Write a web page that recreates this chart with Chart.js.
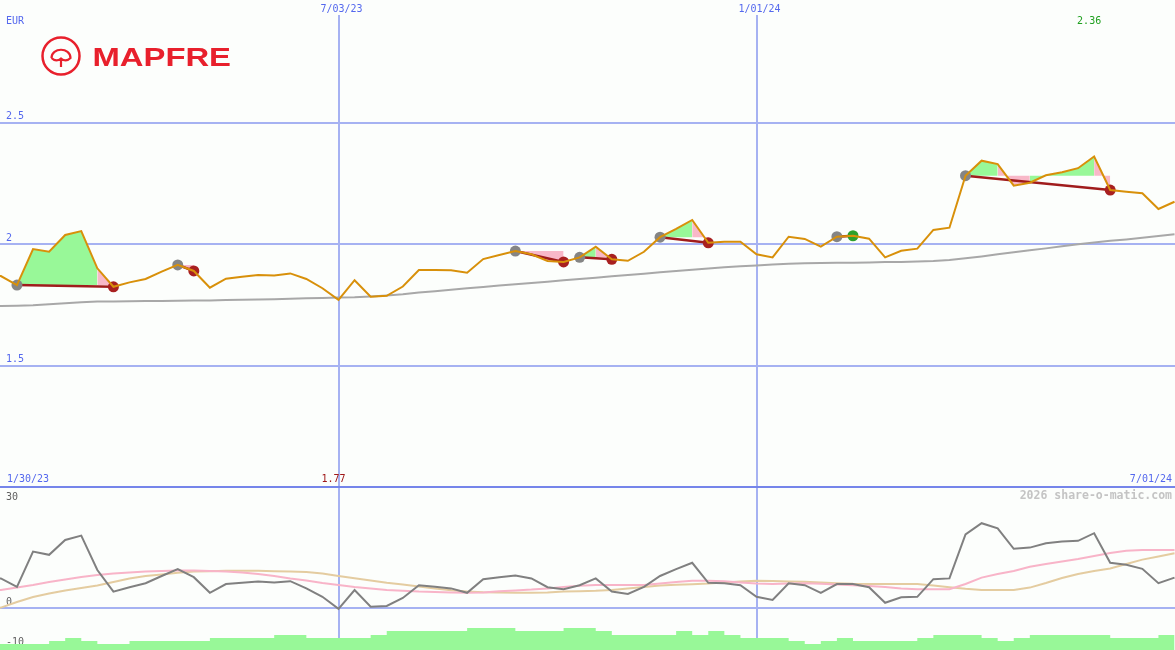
<!DOCTYPE html>
<html>
<head>
<meta charset="utf-8">
<title>MAPFRE</title>
<script src="https://cdn.jsdelivr.net/npm/chart.js@4.4.0/dist/chart.umd.min.js"></script>
<style>
  html, body { margin: 0; padding: 0; background: #fcfefc; }
  canvas { display: block; }
</style>
</head>
<body>
<canvas id="chart" width="1175" height="650"></canvas>
<script>
// weekly closes, week 0 = 1/30/23
const price = [1.870, 1.868, 1.831, 1.979, 1.968, 2.037, 2.053, 1.900, 1.824, 1.842,
  1.856, 1.886, 1.914, 1.889, 1.820, 1.857, 1.865, 1.872, 1.870, 1.879,
  1.856, 1.818, 1.770, 1.851, 1.783, 1.787, 1.825, 1.893, 1.893, 1.892,
  1.882, 1.938, 1.955, 1.971, 1.958, 1.930, 1.926, 1.945, 1.989, 1.937,
  1.931, 1.968, 2.028, 2.062, 2.099, 2.005, 2.009, 2.009, 1.958, 1.945,
  2.030, 2.021, 1.989, 2.030, 2.034, 2.022, 1.945, 1.972, 1.981, 2.058,
  2.067, 2.281, 2.343, 2.329, 2.240, 2.252, 2.283, 2.295, 2.312, 2.360,
  2.222, 2.215, 2.209, 2.144, 2.174];

// long moving average
const ma = [1.744, 1.745, 1.746, 1.748, 1.752, 1.756, 1.760, 1.763, 1.763, 1.764,
  1.765, 1.765, 1.766, 1.767, 1.768, 1.770, 1.771, 1.772, 1.773, 1.775,
  1.777, 1.778, 1.780, 1.781, 1.784, 1.788, 1.793, 1.800, 1.806, 1.812,
  1.818, 1.823, 1.829, 1.834, 1.840, 1.845, 1.851, 1.856, 1.861, 1.867,
  1.872, 1.878, 1.884, 1.889, 1.894, 1.899, 1.904, 1.908, 1.912, 1.916,
  1.919, 1.921, 1.922, 1.923, 1.923, 1.924, 1.926, 1.926, 1.928, 1.930,
  1.934, 1.941, 1.949, 1.958, 1.966, 1.974, 1.982, 1.991, 1.999, 2.006,
  2.013, 2.019, 2.026, 2.033, 2.040];

// lower panel
const osc = [7.5, 7.4, 5.3, 14.1, 13.3, 17.0, 18.1, 9.5, 4.1, 5.2,
  6.2, 8.0, 9.7, 7.7, 3.8, 6.0, 6.3, 6.6, 6.4, 6.7,
  4.9, 2.8, -0.2, 4.5, 0.3, 0.5, 2.5, 5.7, 5.3, 4.9,
  3.8, 7.2, 7.7, 8.1, 7.4, 5.2, 4.7, 5.7, 7.4, 4.1,
  3.5, 5.3, 8.0, 9.7, 11.3, 6.3, 6.2, 5.7, 2.8, 2.0,
  6.2, 5.7, 3.8, 6.0, 6.0, 5.2, 1.3, 2.7, 2.8, 7.2,
  7.4, 18.4, 21.2, 19.9, 14.8, 15.1, 16.2, 16.6, 16.8, 18.7,
  11.3, 10.8, 9.8, 6.2, 7.6];

const oscFast = [4.0, 4.5, 5.1, 5.75, 6.5, 7.1, 7.75, 8.25, 8.6, 8.9,
  9.1, 9.25, 9.4, 9.4, 9.25, 9.1, 8.9, 8.5, 8.0, 7.4,
  6.9, 6.25, 5.75, 5.25, 4.9, 4.5, 4.3, 4.1, 4.0, 3.9,
  3.8, 3.9, 4.2, 4.4, 4.6, 4.9, 5.25, 5.55, 5.75, 5.75,
  5.75, 5.75, 6.1, 6.5, 6.8, 6.8, 6.7, 6.4, 6.1, 6.0,
  6.1, 6.2, 6.05, 5.9, 5.7, 5.5, 5.25, 4.9, 4.7, 4.7,
  4.7, 6.0, 7.6, 8.5, 9.25, 10.3, 11.0, 11.6, 12.25, 13.0,
  13.75, 14.3, 14.5, 14.5, 14.5];

const oscSlow = [-0.75, 0.1, 1.5, 2.75, 3.6, 4.4, 5.0, 5.6, 6.5, 7.4,
  8.0, 8.4, 8.8, 9.1, 9.2, 9.3, 9.3, 9.3, 9.2, 9.1,
  9.0, 8.6, 8.0, 7.45, 6.9, 6.3, 5.85, 5.4, 4.9, 4.45,
  4.1, 3.95, 3.9, 3.8, 3.8, 3.9, 4.1, 4.2, 4.3, 4.5,
  4.9, 5.25, 5.6, 5.8, 5.95, 6.1, 6.4, 6.6, 6.8, 6.75,
  6.65, 6.55, 6.4, 6.2, 6.05, 6.0, 6.0, 6.0, 6.0, 5.6,
  5.2, 4.8, 4.5, 4.5, 4.5, 5.1, 6.25, 7.5, 8.5, 9.25,
  9.9, 11.0, 12.1, 12.9, 13.7];

// relative volume
const volume = [6, 6, 6, 6, 9, 12, 9, 6, 6, 9,
  9, 9, 9, 9, 12, 12, 12, 12, 15, 15,
  12, 12, 12, 12, 15, 19, 19, 19, 19, 19,
  22, 22, 22, 19, 19, 19, 22, 22, 19, 15,
  15, 15, 15, 19, 15, 19, 15, 12, 12, 12,
  9, 6, 9, 12, 9, 9, 9, 9, 12, 15,
  15, 15, 12, 9, 12, 15, 15, 15, 15, 15,
  12, 12, 12, 15, 15];

// signals: week of entry / exit
const tradeIn = [2, 12, 33, 37, 42, 53, 61];
const tradeOut = [8, 13, 36, 39, 45, 54, 70];

const tickWeeks = [22, 48];
const tickLabels = ['7/03/23', '1/01/24'];
const rangeLabels = ['1/30/23', '7/01/24'];
const priceTicks = [1, 1.5, 2, 2.5];
const oscTicks = [-10, 0, 30];
const currency = 'EUR';

const MONO = '"DejaVu Sans Mono", monospace';
const BLUE = '#5468ee', GRID = '#a6b2f2', SEP = '#7585ea';
const GREEN_FILL = '#98f898', PINK_FILL = '#f8b8c8';

const pts = arr => arr.map((v, i) => ({x: i, y: v}));

// keep the plot area on the whole canvas
const noPad = s => { s.paddingTop = 0; s.paddingBottom = 0; s.paddingLeft = 0; s.paddingRight = 0; };

const datasets = [];
datasets.push({data: pts(price), borderColor: '#d8900a', borderWidth: 2, pointRadius: 0, yAxisID: 'yP', order: 0});

const dots = [], dotColors = [], links = [];
tradeIn.forEach((a, k) => {
  const b = tradeOut[k];
  dots.push({x: a, y: price[a]}); dotColors.push('#858585');
  dots.push({x: b, y: price[b]}); dotColors.push(price[b] > price[a] ? '#2ca02c' : '#a82020');
  links.push({x: a, y: price[a]}, {x: b, y: price[b]}, {x: b, y: null});
});
datasets.push({data: dots, showLine: false, pointRadius: 5.5, pointBorderWidth: 0,
  pointBackgroundColor: dotColors, yAxisID: 'yP', order: 1});
datasets.push({data: links, borderColor: '#a01c1c', borderWidth: 2.5, pointRadius: 0, yAxisID: 'yP', order: 2});

tradeIn.forEach((a, k) => {
  const b = tradeOut[k], base = price[a];
  datasets.push({
    data: pts(price).slice(a, b + 1),
    borderColor: 'transparent', borderWidth: 0, pointRadius: 0,
    backgroundColor: GREEN_FILL,
    fill: {value: base},
    segment: {backgroundColor: c => c.p1.parsed.y >= base ? GREEN_FILL : PINK_FILL},
    yAxisID: 'yP', order: 3
  });
});

datasets.push({data: pts(ma), borderColor: '#a8a8a8', borderWidth: 2, pointRadius: 0, yAxisID: 'yP', order: 4});
datasets.push({data: pts(osc), borderColor: '#808080', borderWidth: 2, pointRadius: 0, yAxisID: 'yO', order: 5});
datasets.push({data: pts(oscFast), borderColor: '#f8b4c8', borderWidth: 2, pointRadius: 0, yAxisID: 'yO', order: 6});
datasets.push({data: pts(oscSlow), borderColor: '#e4cca0', borderWidth: 2, pointRadius: 0, yAxisID: 'yO', order: 7});
datasets.push({data: pts(volume), stepped: true, fill: 'start', backgroundColor: GREEN_FILL,
  borderWidth: 0, borderColor: 'transparent', pointRadius: 0, yAxisID: 'yV', order: 8});

const iMin = price.indexOf(Math.min(...price));
const iMax = price.indexOf(Math.max(...price));

const overlay = {
  id: 'overlay',
  afterDatasetsDraw(chart) {
    const {ctx, scales: {x, yP}} = chart;
    const bottom = yP.getPixelForValue(1) - 8;
    ctx.save();
    ctx.font = `10px ${MONO}`;
    ctx.textBaseline = 'middle';
    ctx.fillStyle = BLUE;
    ctx.textAlign = 'left';
    ctx.fillText(currency, 6, 21.5);
    ctx.fillText(rangeLabels[0], 7, bottom);
    ctx.textAlign = 'right';
    ctx.fillText(rangeLabels[1], 1172, bottom);
    ctx.textAlign = 'center';
    ctx.fillStyle = '#a01818';
    ctx.fillText(price[iMin].toFixed(2), x.getPixelForValue(iMin) - 5, bottom);
    ctx.fillStyle = '#20a020';
    ctx.fillText(price[iMax].toFixed(2), x.getPixelForValue(iMax) - 5, 21.5);
    ctx.font = `bold 11.5px ${MONO}`;
    ctx.fillStyle = '#c4c4c4';
    ctx.textAlign = 'right';
    ctx.fillText('2026 share-o-matic.com', 1172, bottom + 17);

    // logo
    const red = '#e8202c';
    ctx.strokeStyle = red;
    ctx.lineWidth = 2.5;
    ctx.beginPath(); ctx.arc(61, 56, 18.5, 0, Math.PI * 2); ctx.stroke();
    ctx.lineWidth = 2.2;
    ctx.beginPath();
    ctx.moveTo(51.5, 58);
    ctx.bezierCurveTo(51.5, 47, 70.5, 47, 70.5, 58);
    ctx.quadraticCurveTo(66, 62.5, 61, 58.5);
    ctx.quadraticCurveTo(56, 62.5, 51.5, 58);
    ctx.moveTo(61, 58.5); ctx.lineTo(61, 67);
    ctx.stroke();
    ctx.font = 'bold 25px "Liberation Sans", Arial, sans-serif';
    ctx.fillStyle = red;
    ctx.textAlign = 'left';
    ctx.textBaseline = 'alphabetic';
    const w = ctx.measureText('MAPFRE').width;
    ctx.translate(92.5, 66.3);
    ctx.scale(138.5 / w, 1);
    ctx.fillText('MAPFRE', 0, 0);
    ctx.restore();
  }
};

new Chart(document.getElementById('chart'), {
  type: 'line',
  data: {datasets},
  options: {
    responsive: false,
    animation: false,
    devicePixelRatio: 1,
    events: [],
    layout: {padding: 0, autoPadding: false},
    plugins: {legend: {display: false}, tooltip: {enabled: false}},
    scales: {
      x: {
        type: 'linear', position: 'top', min: 0.945, max: 74.03,
        afterBuildTicks: s => { s.ticks = tickWeeks.map(v => ({value: v})); },
        afterFit: s => { s.height = 15; noPad(s); },
        ticks: {callback: (v, i) => tickLabels[i], color: BLUE, font: {family: MONO, size: 10},
          padding: 0, labelOffset: 3, maxRotation: 0, autoSkip: false},
        grid: {color: GRID, lineWidth: 2, drawTicks: false},
        border: {display: false}
      },
      yP: {
        type: 'linear', position: 'left', min: 0.32922, max: 2.94239,
        afterBuildTicks: s => { s.ticks = priceTicks.map(v => ({value: v})); },
        afterFit: s => { s.width = 0; noPad(s); },
        ticks: {mirror: true, padding: 6, labelOffset: -6, color: BLUE, font: {family: MONO, size: 10},
          callback: v => v === 1 ? '' : String(v)},
        grid: {color: c => c.tick.value === 1 ? SEP : GRID, lineWidth: 2, drawTicks: false},
        border: {display: false}
      },
      yO: {
        type: 'linear', position: 'left', min: -10.5, max: 148.25, z: 1,
        afterBuildTicks: s => { s.ticks = oscTicks.map(v => ({value: v})); },
        afterFit: s => { s.width = 0; noPad(s); },
        ticks: {mirror: true, padding: 6, labelOffset: -6, color: '#606060',
          font: c => ({family: MONO, size: 10, lineHeight: c.tick && c.tick.value === 30 ? 1.5 : 1.2}),
          callback: v => v === 30 ? ['', '', '30'] : String(v)},
        grid: {color: c => c.tick.value === 0 ? GRID : 'transparent', lineWidth: 2, drawTicks: false},
        border: {display: false}
      },
      yV: {display: false, min: 0, max: 635}
    }
  },
  plugins: [overlay]
});
</script>
</body>
</html>
